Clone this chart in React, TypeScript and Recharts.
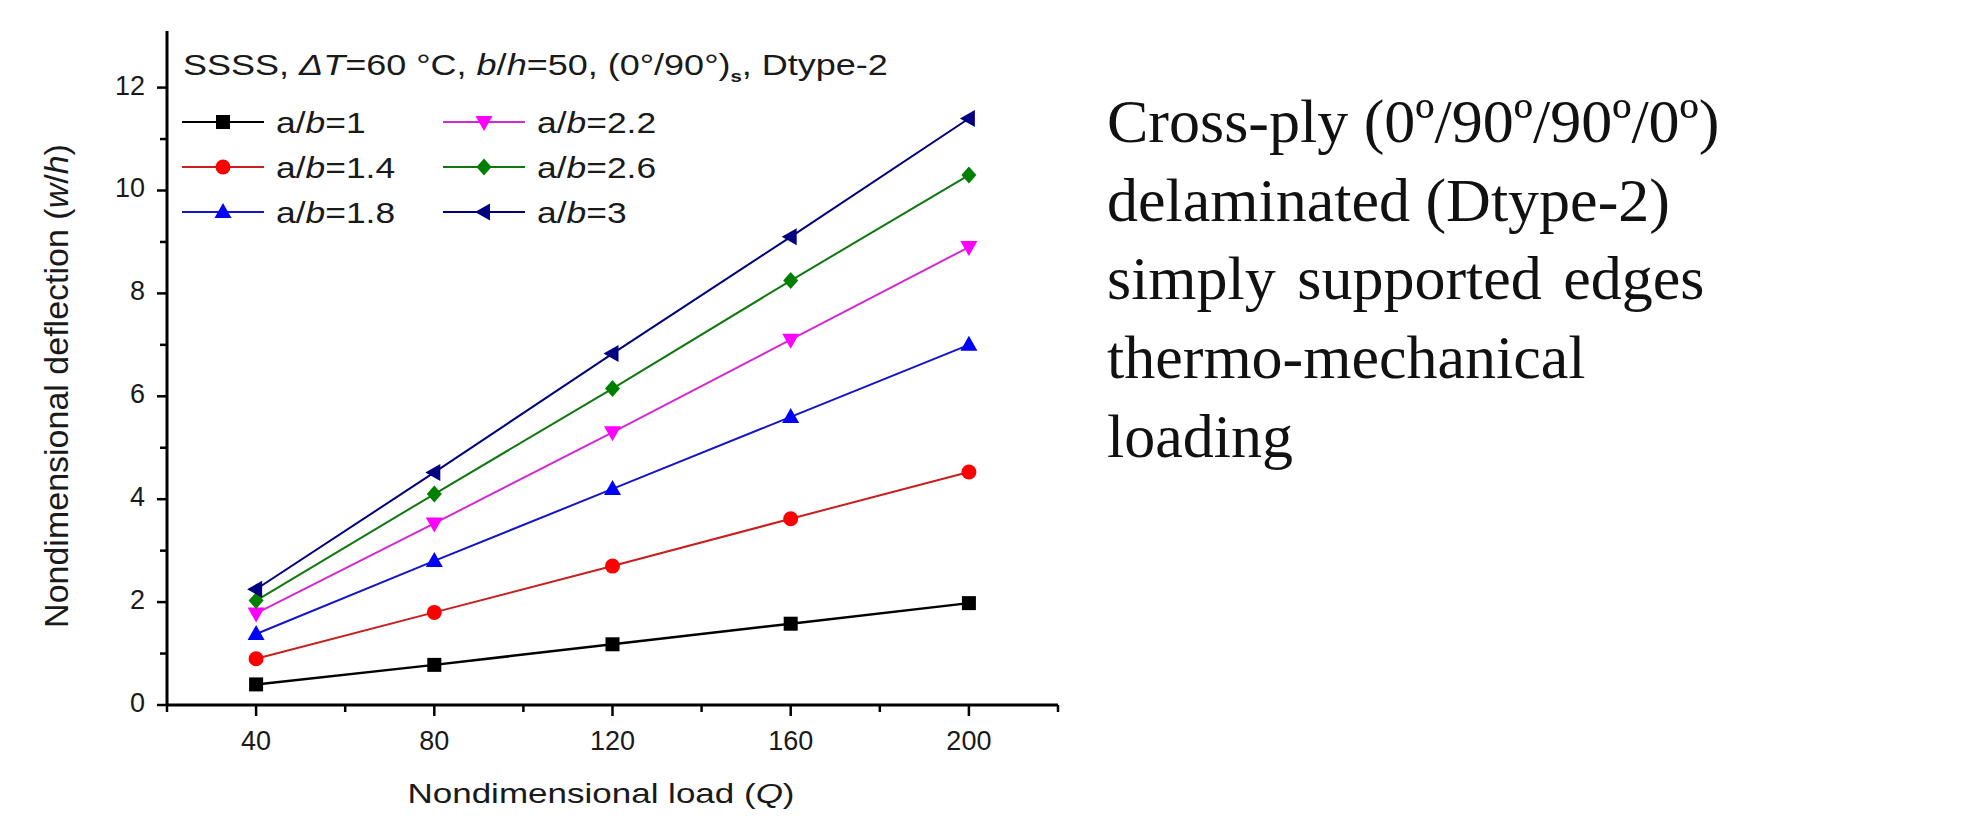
import React from 'react';
import { LineChart, Line, XAxis, YAxis, Legend } from 'recharts';

// nondimensional load Q
const loads = [40, 80, 120, 160, 200];

// nondimensional deflection w/h for each aspect ratio a/b
const ab1 = [0.4, 0.78, 1.18, 1.58, 1.98];
const ab14 = [0.9, 1.8, 2.7, 3.62, 4.53];
const ab18 = [1.38, 2.8, 4.2, 5.6, 7.0];
const ab22 = [1.78, 3.53, 5.3, 7.1, 8.9];
const ab26 = [2.03, 4.1, 6.15, 8.25, 10.3];
const ab3 = [2.25, 4.52, 6.83, 9.1, 11.4];

const ratioLabels = ['1', '1.4', '1.8', '2.2', '2.6', '3'];
const xTicks = [20, 40, 60, 80, 100, 120, 140, 160, 180, 200, 220];
const yTicks = [0, 1, 2, 3, 4, 5, 6, 7, 8, 9, 10, 11, 12];

const infoLines = [
  'Cross-ply (0º/90º/90º/0º)',
  'delaminated (Dtype-2)',
  'simply supported edges',
  'thermo-mechanical',
  'loading',
];

type Shape = 'square' | 'circle' | 'up' | 'down' | 'diamond' | 'left';

const series: { key: string; values: number[]; line: string; fill: string; shape: Shape }[] = [
  { key: 's1', values: ab1, line: '#000000', fill: '#000000', shape: 'square' },
  { key: 's14', values: ab14, line: '#c81e1e', fill: '#ff0000', shape: 'circle' },
  { key: 's18', values: ab18, line: '#1414c8', fill: '#0000ff', shape: 'up' },
  { key: 's22', values: ab22, line: '#d22ad2', fill: '#ff00ff', shape: 'down' },
  { key: 's26', values: ab26, line: '#0e780e', fill: '#008000', shape: 'diamond' },
  { key: 's3', values: ab3, line: '#00007a', fill: '#000080', shape: 'left' },
];

const data = loads.map((q, i) => {
  const row: Record<string, number> = { q };
  series.forEach((s) => (row[s.key] = s.values[i]));
  return row;
});

const SANS = '"Liberation Sans", Arial, sans-serif';
const SERIF = '"Liberation Serif", "Times New Roman", serif';

function Marker({ shape, cx, cy, color }: { shape: Shape; cx: number; cy: number; color: string }) {
  switch (shape) {
    case 'square':
      return <rect x={cx - 7} y={cy - 7} width={14} height={14} fill={color} />;
    case 'circle':
      return <circle cx={cx} cy={cy} r={7.5} fill={color} />;
    case 'up':
      return <polygon points={`${cx},${cy - 9} ${cx + 8.5},${cy + 6} ${cx - 8.5},${cy + 6}`} fill={color} />;
    case 'down':
      return <polygon points={`${cx},${cy + 9} ${cx + 8.5},${cy - 6} ${cx - 8.5},${cy - 6}`} fill={color} />;
    case 'diamond':
      return <polygon points={`${cx},${cy - 8.5} ${cx + 7.5},${cy} ${cx},${cy + 8.5} ${cx - 7.5},${cy}`} fill={color} />;
    default:
      return <polygon points={`${cx - 9},${cy} ${cx + 6},${cy - 8.5} ${cx + 6},${cy + 8.5}`} fill={color} />;
  }
}

const makeDot = (shape: Shape, color: string) => (props: any) => (
  <Marker key={`${shape}-${props.index}`} shape={shape} cx={props.cx} cy={props.cy} color={color} />
);

const XTick = ({ x, y, payload }: any) => {
  const major = payload.value % 40 === 0;
  return (
    <g>
      <line x1={x} x2={x} y1={y} y2={y + (major ? 11 : 7)} stroke="#000" strokeWidth={2.5} />
      {major && payload.value >= 40 && payload.value <= 200 && (
        <text x={x} y={y + 45} textAnchor="middle" fontFamily={SANS} fontSize={27} fill="#1a1a1a">
          {payload.value}
        </text>
      )}
    </g>
  );
};

const YTick = ({ x, y, payload }: any) => {
  const major = payload.value % 2 === 0;
  return (
    <g>
      <line x1={x} x2={x - (major ? 10 : 7)} y1={y} y2={y} stroke="#000" strokeWidth={2.5} />
      {major && (
        <text x={x - 22} y={y + 7} textAnchor="end" fontFamily={SANS} fontSize={27} fill="#1a1a1a">
          {payload.value}
        </text>
      )}
    </g>
  );
};

const XTitle = () => (
  <text transform="translate(601,803) scale(1.25,1)" textAnchor="middle" fontFamily={SANS} fontSize={28} fill="#1a1a1a">
    Nondimensional load (<tspan fontStyle="italic">Q</tspan>)
  </text>
);

const YTitle = () => (
  <text transform="translate(68,386) rotate(-90)" textAnchor="middle" fontFamily={SANS} fontSize={34} fill="#1a1a1a">
    Nondimensional deflection (<tspan fontStyle="italic">w</tspan>/<tspan fontStyle="italic">h</tspan>)
  </text>
);

// header line and the two-column key, drawn inside the legend slot
const LegendBox = () => {
  const colX = [182, 443];
  const rowY = [122, 167, 212];
  return (
    <svg width={1100} height={260} style={{ display: 'block' }}>
      <text transform="translate(183,75) scale(1.2,1)" fontFamily={SANS} fontSize={30} fill="#1a1a1a">
        SSSS, <tspan fontStyle="italic">ΔT</tspan>=60 °C, <tspan fontStyle="italic">b</tspan>/<tspan fontStyle="italic">h</tspan>=50, (0°/90°)<tspan fontSize={17} fontWeight="bold" dy={7}>s</tspan><tspan dy={-7}>, Dtype-2</tspan>
      </text>
      {series.map((s, i) => {
        const x0 = colX[Math.floor(i / 3)];
        const y = rowY[i % 3];
        return (
          <g key={s.key}>
            <line x1={x0} x2={x0 + 82} y1={y} y2={y} stroke={s.line} strokeWidth={2} />
            <Marker shape={s.shape} cx={x0 + 41} cy={y} color={s.fill} />
            <text transform={`translate(${x0 + 94},${y + 11}) scale(1.18,1)`} fontFamily={SANS} fontSize={30} fill="#1a1a1a">
              a/<tspan fontStyle="italic">b</tspan>={ratioLabels[i]}
            </text>
          </g>
        );
      })}
    </svg>
  );
};

export default function App() {
  return (
    <div style={{ position: 'absolute', left: 0, top: 0, width: 1963, height: 819, background: '#fff', overflow: 'hidden' }}>
      <LineChart width={1100} height={819} data={data} margin={{ top: 31, right: 42, bottom: 44, left: 87 }}>
        <XAxis
          dataKey="q"
          type="number"
          domain={[20, 220]}
          ticks={xTicks}
          tick={<XTick />}
          tickSize={0}
          tickMargin={0}
          tickLine={false}
          axisLine={{ stroke: '#000', strokeWidth: 3 }}
          height={70}
          label={<XTitle />}
        />
        <YAxis
          type="number"
          domain={[0, 13.1]}
          ticks={yTicks}
          tick={<YTick />}
          tickSize={0}
          tickMargin={0}
          tickLine={false}
          axisLine={{ stroke: '#000', strokeWidth: 3 }}
          width={80}
          label={<YTitle />}
        />
        <Legend
          layout="horizontal"
          verticalAlign="middle"
          align="center"
          wrapperStyle={{ position: 'absolute', left: 0, top: 0, width: 1100, height: 260, pointerEvents: 'none' }}
          content={() => <LegendBox />}
        />
        {series.map((s) => (
          <Line
            key={s.key}
            dataKey={s.key}
            stroke={s.line}
            strokeWidth={s.key === 's1' ? 2.5 : 2}
            dot={makeDot(s.shape, s.fill)}
            activeDot={false}
            isAnimationActive={false}
          />
        ))}
      </LineChart>
      <svg width={900} height={520} style={{ position: 'absolute', left: 1063, top: 0 }}>
        {infoLines.map((t, i) => (
          <text
            key={t}
            x={44}
            y={142 + i * 78.7}
            fontFamily={SERIF}
            fontSize={62}
            fill="#111"
            wordSpacing={i === 2 ? 6 : 0}
          >
            {t}
          </text>
        ))}
      </svg>
    </div>
  );
}
